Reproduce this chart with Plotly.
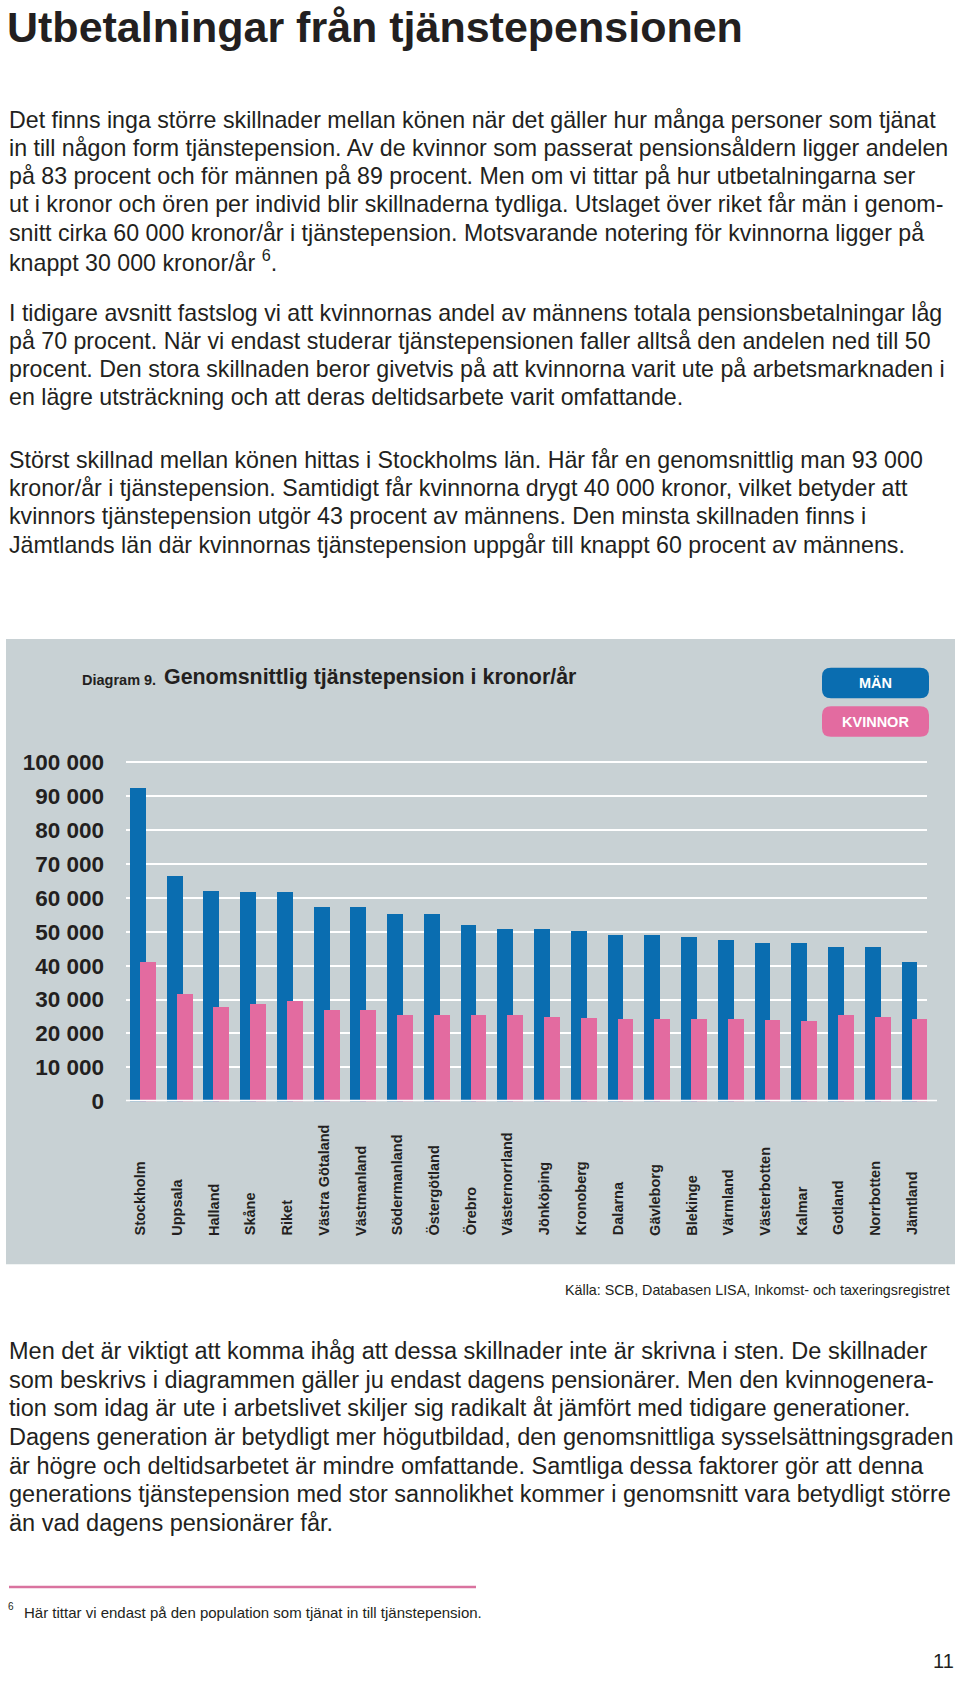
import plotly.graph_objects as go

W, H = 960, 1687

# ---------------- data ----------------
regions = ["Stockholm", "Uppsala", "Halland", "Skåne", "Riket", "Västra Götaland",
           "Västmanland", "Södermanland", "Östergötland", "Örebro", "Västernorrland",
           "Jönköping", "Kronoberg", "Dalarna", "Gävleborg", "Blekinge", "Värmland",
           "Västerbotten", "Kalmar", "Gotland", "Norrbotten", "Jämtland"]
man = [92500, 66500, 62300, 61900, 61900, 57400, 57400, 55400, 55400, 52100, 51100,
       51100, 50300, 49100, 49100, 48700, 47800, 46800, 46800, 45800, 45800, 41300]
kvinnor = [41300, 31700, 28100, 28800, 29700, 27000, 27000, 25700, 25700, 25700, 25700,
           25000, 24600, 24300, 24300, 24300, 24300, 24000, 23800, 25700, 25000, 24300]
y_tickvals = [0, 10000, 20000, 30000, 40000, 50000, 60000, 70000, 80000, 90000, 100000]
y_ticktext = ["0", "10 000", "20 000", "30 000", "40 000", "50 000", "60 000",
              "70 000", "80 000", "90 000", "100 000"]
series_names = ["MÄN", "KVINNOR"]

title = "Utbetalningar från tjänstepensionen"
para1 = ["Det finns inga större skillnader mellan könen när det gäller hur många personer som tjänat",
         "in till någon form tjänstepension. Av de kvinnor som passerat pensionsåldern ligger andelen",
         "på 83 procent och för männen på 89 procent. Men om vi tittar på hur utbetalningarna ser",
         "ut i kronor och ören per individ blir skillnaderna tydliga. Utslaget över riket får män i genom-",
         "snitt cirka 60 000 kronor/år i tjänstepension. Motsvarande notering för kvinnorna ligger på",
         "knappt 30 000 kronor/år <sup>6</sup>."]
para2 = ["I tidigare avsnitt fastslog vi att kvinnornas andel av männens totala pensionsbetalningar låg",
         "på 70 procent. När vi endast studerar tjänstepensionen faller alltså den andelen ned till 50",
         "procent. Den stora skillnaden beror givetvis på att kvinnorna varit ute på arbetsmarknaden i",
         "en lägre utsträckning och att deras deltidsarbete varit omfattande."]
para3 = ["Störst skillnad mellan könen hittas i Stockholms län. Här får en genomsnittlig man 93 000",
         "kronor/år i tjänstepension. Samtidigt får kvinnorna drygt 40 000 kronor, vilket betyder att",
         "kvinnors tjänstepension utgör 43 procent av männens. Den minsta skillnaden finns i",
         "Jämtlands län där kvinnornas tjänstepension uppgår till knappt 60 procent av männens."]
para4 = ["Men det är viktigt att komma ihåg att dessa skillnader inte är skrivna i sten. De skillnader",
         "som beskrivs i diagrammen gäller ju endast dagens pensionärer. Men den kvinnogenera-",
         "tion som idag är ute i arbetslivet skiljer sig radikalt åt jämfört med tidigare generationer.",
         "Dagens generation är betydligt mer högutbildad, den genomsnittliga sysselsättningsgraden",
         "är högre och deltidsarbetet är mindre omfattande. Samtliga dessa faktorer gör att denna",
         "generations tjänstepension med stor sannolikhet kommer i genomsnitt vara betydligt större",
         "än vad dagens pensionärer får."]
chart_label = "Diagram 9."
chart_title = "Genomsnittlig tjänstepension i kronor/år"
source = "Källa: SCB, Databasen LISA, Inkomst- och taxeringsregistret"
footnote_mark = "6"
footnote = "Här tittar vi endast på den population som tjänat in till tjänstepension."
page_no = "11"

# ---------------- style ----------------
BLUE = "#0a6db0"
PINK = "#e36ba0"
PANEL = "#c8d1d4"
TEXT = "#231f20"
FONT = "Liberation Sans, Arial, sans-serif"


def px(x):
    return x / W


def py(y):
    return 1 - y / H


# plot area in pixels
X0, X1 = 126, 927
Y_ZERO, Y_TOP = 1107, 760
px_per_unit = (1107 - 764) / 100000.0
y_max = (Y_ZERO - Y_TOP) / px_per_unit
spacing = 36.74
x_left = -(143 - X0) / spacing
x_right = 21 + (X1 - 914.6) / spacing

fig = go.Figure()
fig.add_trace(go.Bar(x=regions, y=man, name=series_names[0], marker_color=BLUE,
                     marker_line_width=0, width=0.43, offset=-0.354))
fig.add_trace(go.Bar(x=regions, y=kvinnor, name=series_names[1], marker_color=PINK,
                     marker_line_width=0, width=0.43, offset=-0.082))

shapes = []
# gray panel
shapes.append(dict(type="rect", xref="paper", yref="paper", x0=px(6), x1=px(955),
                   y0=py(1272), y1=py(639), fillcolor=PANEL, line_width=0, layer="below"))
# baseline
shapes.append(dict(type="line", xref="paper", yref="y", x0=px(126), x1=px(937),
                   y0=0, y1=0, line=dict(color="white", width=3), layer="above"))
# footnote rule
shapes.append(dict(type="line", xref="paper", yref="paper", x0=px(9), x1=px(476),
                   y0=py(1599), y1=py(1599), line=dict(color="#d9739f", width=2.5)))


def rounded(x0, y0, x1, y1, r, color):
    def P(x, y):
        return f"{px(x):.6f},{py(y):.6f}"
    path = (f"M {P(x0 + r, y0)} L {P(x1 - r, y0)} Q {P(x1, y0)} {P(x1, y0 + r)} "
            f"L {P(x1, y1 - r)} Q {P(x1, y1)} {P(x1 - r, y1)} "
            f"L {P(x0 + r, y1)} Q {P(x0, y1)} {P(x0, y1 - r)} "
            f"L {P(x0, y0 + r)} Q {P(x0, y0)} {P(x0 + r, y0)} Z")
    return dict(type="path", xref="paper", yref="paper", path=path,
                fillcolor=color, line_width=0, layer="above")


shapes.append(rounded(822, 668, 929, 699, 9, BLUE))
shapes.append(rounded(822, 707, 929, 738, 9, PINK))

ann = []


def text(t, x, y, size, xanchor="left", bold=False, color=TEXT, yanchor="middle"):
    ann.append(dict(text=f"<b>{t}</b>" if bold else t, x=px(x), y=py(y), xref="paper",
                    yref="paper", xanchor=xanchor, yanchor=yanchor, showarrow=False,
                    font=dict(family=FONT, size=size, color=color)))


BODY = 23.2
text(title, 5, 19, 43, bold=True)
for i, line in enumerate(para1):
    text(line, 7, 113 + 28.6 * i, BODY)
for i, line in enumerate(para2):
    text(line, 7, 308.5 + 28.6 * i, BODY)
for i, line in enumerate(para3):
    text(line, 7, 457.5 + 28.6 * i, BODY)
for i, line in enumerate(para4):
    text(line, 7, 1360 + 29.0 * i, 23.5)

text(chart_label, 80, 680, 14.5, bold=True)
text(chart_title, 162, 677, 21.4, bold=True)
text(series_names[0], 875.5, 683.5, 14.5, xanchor="center", bold=True, color="white")
text(series_names[1], 875.5, 722.5, 14.5, xanchor="center", bold=True, color="white")
text(source, 952, 1298, 14.3, xanchor="right")
text(footnote_mark, 6, 1619, 10)
text(footnote, 22, 1625, 15)
text(page_no, 956, 1674, 20, xanchor="right")

# category labels, bottom aligned, rotated
for r in regions:
    ann.append(dict(text=f"<b>{r}</b>", x=r, xref="x", y=py(1245), yref="paper",
                    xanchor="center", yanchor="bottom", textangle=-90, showarrow=False,
                    xshift=-3, font=dict(family=FONT, size=14.5, color=TEXT)))

fig.update_layout(
    width=W, height=H, autosize=False,
    margin=dict(l=0, r=0, t=0, b=0, pad=0),
    paper_bgcolor="white", plot_bgcolor="rgba(0,0,0,0)",
    barmode="overlay", bargap=0, showlegend=False,
    shapes=shapes, annotations=ann,
    font=dict(family=FONT, color=TEXT),
)
fig.update_xaxes(domain=[px(X0), px(X1)], range=[x_left, x_right], showticklabels=False,
                 showgrid=False, zeroline=False, showline=False, ticks="")
fig.update_yaxes(domain=[py(Y_ZERO), py(Y_TOP)], range=[0, y_max], tickvals=y_tickvals,
                 ticktext=y_ticktext, showgrid=True, gridcolor="white", gridwidth=2,
                 zeroline=False, showline=False, ticks="", ticklabelstandoff=21,
                 tickfont=dict(family=FONT, size=22.5, color=TEXT, weight="bold"))

fig.write_html("out.html",
               config={"displayModeBar": False},
               post_script="document.body.style.margin='0px';document.body.style.overflow='hidden';")
